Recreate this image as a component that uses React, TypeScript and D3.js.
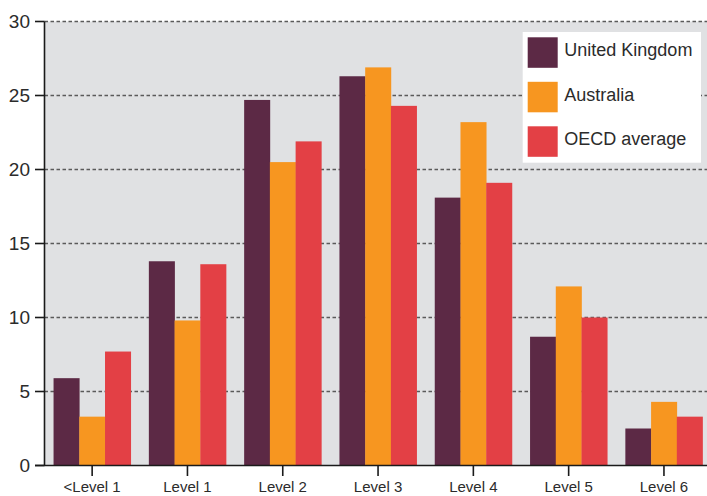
import React from "react";
import * as d3 from "d3";

const categories = ["<Level 1", "Level 1", "Level 2", "Level 3", "Level 4", "Level 5", "Level 6"];
const seriesNames = ["United Kingdom", "Australia", "OECD average"];
const ukValues = [5.9, 13.8, 24.7, 26.3, 18.1, 8.7, 2.5];
const australiaValues = [3.3, 9.8, 20.5, 26.9, 23.2, 12.1, 4.3];
const oecdValues = [7.7, 13.6, 21.9, 24.3, 19.1, 10.0, 3.3];
const yTicks = [0, 5, 10, 15, 20, 25, 30];
const colors = ["#5c2945", "#f79620", "#e34045"];

const W = 707;
const H = 496;
const left = 44.5;
const top = 21.5;
const bottom = 465.5;
const right = 711.6;
const FONT = "'Liberation Sans', Arial, sans-serif";

export default function App() {
  const series = [ukValues, australiaValues, oecdValues];
  const x = d3.scaleBand<string>().domain(categories).range([left, right]).paddingInner(0.19).paddingOuter(0.095);
  const xi = d3.scaleBand<number>().domain([0, 1, 2]).range([0, x.bandwidth()]);
  const y = d3.scaleLinear().domain([0, 30]).range([bottom, top]);

  return (
    <svg width={W} height={H} style={{ position: "absolute", left: 0, top: 0 }} fontFamily={FONT}>
      <rect x={left} y={top} width={W - left} height={bottom - top} fill="#e0e1e3" />
      {yTicks.filter((t) => t > 0).map((t) => (
        <line key={t} x1={left} x2={W} y1={y(t)} y2={y(t)} stroke="#5a5a5a" strokeWidth={1.6} strokeDasharray="3.5,2.5" />
      ))}
      {categories.map((c, ci) =>
        series.map((vals, si) => (
          <rect
            key={c + si}
            x={(x(c) as number) + (xi(si) as number)}
            y={y(vals[ci])}
            width={xi.bandwidth() + 0.3}
            height={bottom - y(vals[ci])}
            fill={colors[si]}
          />
        ))
      )}
      {/* axes */}
      <line x1={left} x2={left} y1={top} y2={bottom} stroke="#1a1a1a" strokeWidth={1.6} />
      <line x1={35} x2={W} y1={bottom} y2={bottom} stroke="#1a1a1a" strokeWidth={1.6} />
      {yTicks.map((t) => (
        <g key={t}>
          <line x1={35} x2={left} y1={y(t)} y2={y(t)} stroke="#1a1a1a" strokeWidth={1.6} />
          <text x={30} y={y(t)} dy="0.36em" textAnchor="end" fontSize={19} fill="#2b2b2b">
            {t}
          </text>
        </g>
      ))}
      {categories.map((c) => {
        const cx = (x(c) as number) + x.bandwidth() / 2;
        return (
          <g key={c}>
            <line x1={cx} x2={cx} y1={bottom} y2={476} stroke="#1a1a1a" strokeWidth={1.6} />
            <text x={cx} y={492} textAnchor="middle" fontSize={15} fill="#2b2b2b">
              {c}
            </text>
          </g>
        );
      })}
      {/* legend */}
      <rect x={522.7} y={32} width={178.3} height={130.7} fill="#ffffff" />
      {seriesNames.map((n, i) => (
        <g key={n}>
          <rect x={527.7} y={37.3 + i * 44.5} width={30} height={30.5} fill={colors[i]} />
          <text x={564.3} y={56 + i * 44.5} fontSize={18} fill="#2b2b2b">
            {n}
          </text>
        </g>
      ))}
    </svg>
  );
}
